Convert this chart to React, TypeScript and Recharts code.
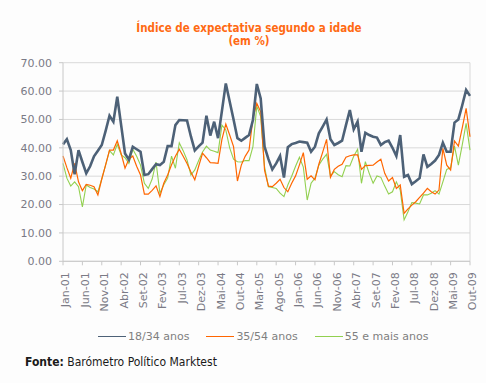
import { LineChart, Line, XAxis, YAxis, CartesianGrid, ReferenceLine } from 'recharts';

const MONTHS = ['Jan', 'Fev', 'Mar', 'Abr', 'Mai', 'Jun', 'Jul', 'Ago', 'Set', 'Out', 'Nov', 'Dez'];

// Jan-01 .. Out-09, one point per month
const labels: string[] = [];
for (let y = 1; y <= 9; y++) {
  for (let m = 0; m < 12; m++) {
    if (y === 9 && m > 9) break;
    labels.push(`${MONTHS[m]}-0${y}`);
  }
}

const young = [
  41.2, 43, 39.2, 30.7, 39.2, 35, 31, 33.5, 37, 39, 41, 46, 51.3, 49.2, 58, 48, 38, 35.8, 40.4, 39.5,
  38.6, 30.4, 30.7, 32.5, 34.2, 33.9, 35.1, 40.6, 40.6, 48, 49.8, 49.7, 49.6, 44, 39.1, 40.5, 41.8, 51.3, 44.3, 49.2,
  43.4, 53, 62.7, 56.3, 50, 43.4, 42.5, 43.5, 44.5, 49.8, 62.5, 57.4, 40.4, 36, 32.4, 34.5, 37.1, 29.5, 40.2, 41.3,
  41.7, 42.2, 42, 41.8, 38.6, 40.4, 45.1, 47.5, 50, 43, 41, 41.7, 42.5, 48, 53.3, 46.5, 49.2, 38.6, 45.3, 44.5,
  43.9, 43.6, 41, 42, 42.5, 40, 37.1, 44.5, 29.8, 30.4, 27.2, 28.2, 29.3, 37.7, 33.3, 34.3, 35.5, 37.5, 41.8, 38.6,
  38.6, 48.9, 50, 55, 60.4, 58.3,
];

const middle = [
  37.1, 33, 29.3, 34.5, 28, 24.9, 27.1, 26.8, 26.3, 23.4, 29, 34, 39.2, 39.2, 42.5, 38, 32.8, 36, 37.1, 33.5,
  30.4, 23.7, 23.7, 25, 26.6, 22.8, 27.5, 30.4, 34, 37, 39.5, 37, 34.5, 31.5, 28.7, 33.5, 38.1, 36.5, 34.8, 34.7,
  34.5, 43, 48.4, 44.5, 40.4, 28.3, 33.9, 37, 39.2, 50.4, 55.7, 52.7, 32, 26.5, 26.3, 27.5, 28.9, 26, 24.5, 27.5,
  30.1, 34, 38.3, 28.9, 30.1, 28.7, 34.2, 38.5, 43, 29.6, 32.4, 33.5, 34.2, 36.7, 37.2, 37.5, 37.5, 32.4, 33.7, 33.8,
  33.9, 35, 36, 31, 28.3, 29.5, 25.7, 26.9, 16.9, 18.5, 19.8, 21, 22.5, 24, 25.7, 24.5, 23.7, 25.1, 39.8, 33.9,
  32.2, 42.4, 40.6, 47, 53.9, 43.9,
];

const senior = [
  34.5, 29.3, 26.5, 28, 26.3, 19.2, 26.9, 26, 25.5, 24.5, 29, 34, 39, 37.5, 41.2, 37.5, 36.5, 34.5, 39.5, 37,
  33.9, 27.5, 25.7, 29, 35, 24, 27, 29.3, 37.1, 32.8, 41.8, 39, 35.7, 30.4, 32.2, 35.5, 38.5, 40.6, 39.2, 38.8,
  38.3, 48, 46.3, 40, 36, 35.1, 35, 35.5, 35.5, 40.4, 54.7, 51, 33.3, 26.3, 26, 25.7, 24, 22.8, 26.9, 30,
  33.5, 36.7, 33.2, 21.6, 27.5, 29.3, 33.9, 36, 37.7, 30.1, 31.6, 30.5, 29.8, 33.7, 33.6, 37, 39.5, 27.5, 35.1, 31,
  27.5, 30.1, 29.6, 26.5, 23.7, 24.5, 28, 25.1, 14.6, 17.5, 20.7, 20.5, 20.2, 23.4, 23.4, 24, 24.9, 23.7, 28, 32.4,
  33, 40.6, 33.9, 41, 48.6, 39.2,
];

const yTicks = [0, 10, 20, 30, 40, 50, 60, 70];

const data = labels.map((label, i) => ({
  label,
  young: young[i],
  middle: middle[i],
  senior: senior[i],
}));

const FONT = '"DejaVu Sans", Verdana, sans-serif';
const COND = '"DejaVu Sans Condensed", "DejaVu Sans", sans-serif';
const AXIS_TEXT = '#7a7a85';
const GRID = '#d9d9d9';

function XTick({ x, y, payload }: any) {
  return (
    <text
      x={x + 3}
      y={y}
      transform={`rotate(-90 ${x + 3} ${y})`}
      textAnchor="end"
      dominantBaseline="central"
      fill={AXIS_TEXT}
      fontSize={11}
      fontFamily={FONT}
    >
      {payload.value}
    </text>
  );
}

const legendItems = [
  { name: '18/34 anos', color: '#4d6177' },
  { name: '35/54 anos', color: '#ff6600' },
  { name: '55 e mais anos', color: '#92d050' },
];

export default function App() {
  return (
    <div
      style={{
        position: 'absolute',
        left: 0,
        top: 0,
        width: 486,
        height: 383,
        background: '#fdfdfd',
        fontFamily: FONT,
        overflow: 'hidden',
      }}
    >
      <div
        style={{
          position: 'absolute',
          top: 22,
          left: 0,
          width: 498,
          textAlign: 'center',
          color: '#ff6a13',
          fontWeight: 'bold',
          fontSize: 11.5,
          lineHeight: '13px',
          fontFamily: COND,
        }}
      >
        Índice de expectativa segundo a idade
        <br />
        (em %)
      </div>

      <div style={{ position: 'absolute', left: 0, top: 0 }}>
        <LineChart
          width={486}
          height={320}
          data={data}
          margin={{ top: 62.7, right: 16, left: 0, bottom: 8.7 }}
        >
          <CartesianGrid stroke={GRID} vertical={false} />
          <XAxis
            dataKey="label"
            interval={4}
            height={50}
            tick={<XTick />}
            tickSize={4}
            tickMargin={7}
            axisLine={{ stroke: '#c8c8c8' }}
            tickLine={{ stroke: '#c8c8c8' }}
          />
          <YAxis
            domain={[0, 70]}
            ticks={yTicks}
            width={63}
            tickSize={4}
            tickMargin={7}
            tickFormatter={(v: number) => v.toFixed(2)}
            tick={{ fill: AXIS_TEXT, fontSize: 11, fontFamily: FONT }}
            axisLine={{ stroke: '#c8c8c8' }}
            tickLine={{ stroke: '#c8c8c8' }}
          />
          <ReferenceLine x={labels[labels.length - 1]} stroke={GRID} />
          <Line
            dataKey="senior"
            stroke="#92d050"
            strokeWidth={1.1}
            dot={false}
            isAnimationActive={false}
          />
          <Line
            dataKey="middle"
            stroke="#ff6600"
            strokeWidth={1.2}
            dot={false}
            isAnimationActive={false}
          />
          <Line
            dataKey="young"
            stroke="#4d6177"
            strokeWidth={2.6}
            dot={false}
            isAnimationActive={false}
          />
        </LineChart>
      </div>

      <div
        style={{
          position: 'absolute',
          top: 330,
          left: 98,
          display: 'flex',
          alignItems: 'center',
          fontSize: 11,
          color: '#808080',
          whiteSpace: 'nowrap',
        }}
      >
        {legendItems.map((it, i) => (
          <div key={it.name} style={{ display: 'flex', alignItems: 'center', marginRight: i < 2 ? 17 : 0 }}>
            <span style={{ display: 'inline-block', width: 28, height: 0, borderTop: `1.5px solid ${it.color}`, marginRight: 2 }} />
            <span>{it.name}</span>
          </div>
        ))}
      </div>

      <div
        style={{
          position: 'absolute',
          top: 355,
          left: 25,
          fontSize: 12,
          color: '#1a1a1a',
          fontFamily: COND,
          whiteSpace: 'nowrap',
        }}
      >
        <b>Fonte:</b> Barómetro Político Marktest
      </div>
    </div>
  );
}
